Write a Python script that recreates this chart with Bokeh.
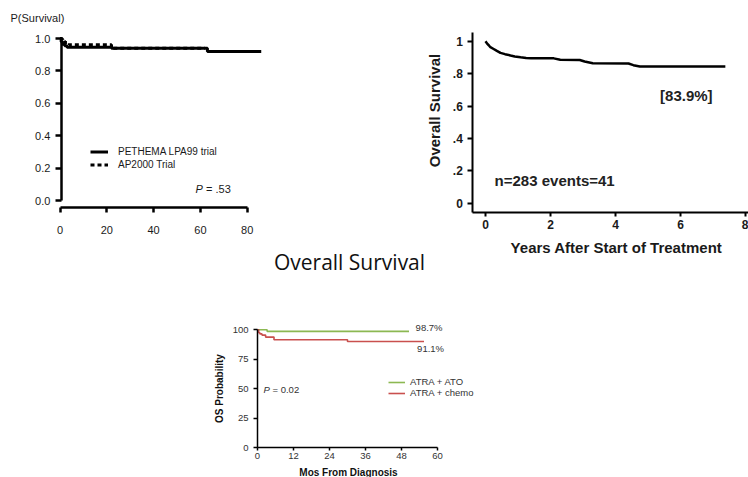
from bokeh.plotting import figure
from bokeh.models import (Range1d, FixedTicker, Label, Legend, LegendItem,
                          NumeralTickFormatter, LinearAxis)
from bokeh.embed import file_html
from bokeh.resources import INLINE

ARIAL = "Liberation Sans"
W, H = 748, 477

# ---------------- Panel B (top left): P(Survival) by trial ----------------
lpa99_months = [0, 0.5, 1, 2, 3, 22, 63, 86]
lpa99_surv = [1.0, 0.98, 0.965, 0.955, 0.946, 0.94, 0.92, 0.92]
ap2000_months = [0, 1, 2, 4, 22, 62]
ap2000_surv = [1.0, 0.985, 0.975, 0.962, 0.94, 0.94]
b_xticks = [0, 20, 40, 60, 80]
b_yticks = [0.0, 0.2, 0.4, 0.6, 0.8, 1.0]
b_labels = ["PETHEMA LPA99 trial", "AP2000 Trial"]

# ---------------- Top right: overall survival, years ----------------
os_years = [0, 0.05, 0.1, 0.15, 0.25, 0.35, 0.46, 0.6, 0.77, 0.9, 1.08, 1.25, 1.4,
            2.1, 2.3, 2.9, 3.05, 3.3, 4.4, 4.55, 4.75, 7.38]
os_surv = [1.0, 0.985, 0.975, 0.963, 0.952, 0.94, 0.928, 0.92, 0.912, 0.906, 0.901, 0.897, 0.895,
           0.894, 0.886, 0.884, 0.875, 0.864, 0.862, 0.852, 0.844, 0.844]
os_xticks = [0, 2, 4, 6, 8]
os_yticks = [0, 0.2, 0.4, 0.6, 0.8, 1.0]
os_ytick_text = ["0", ".2", ".4", ".6", ".8", "1"]

# ---------------- Bottom: OS probability by arm ----------------
ato_months = [0, 3.2, 50.5]
ato_os = [100, 98.7, 98.7]
chemo_months = [0, 0.4, 0.8, 1.5, 2.7, 5.5, 30, 55.5]
chemo_os = [100, 97.5, 96.5, 95.5, 93.8, 91.5, 90.0, 90.0]
c_xticks = [0, 12, 24, 36, 48, 60]
c_yticks = [0, 25, 50, 75, 100]
c_labels = ["ATRA + ATO", "ATRA + chemo"]
GREEN = "#8cb852"
RED = "#c9504e"


def xr(px0, scale):
    """x range so that value 0 sits at pixel px0 with `scale` px per unit."""
    return Range1d(-px0 / scale, (W - px0) / scale)


def yr(py0, scale):
    """y range so that value 0 sits at pixel py0 (from top) with `scale` px per unit."""
    return Range1d(-(H - py0) / scale, py0 / scale)


p = figure(width=W, height=H, x_range=xr(257, 3.0), y_range=yr(447, 1.177),
           x_axis_type=None, y_axis_type=None, output_backend="svg",
           toolbar_location=None, min_border=0)
p.extra_x_ranges = {"b_x": xr(59.5, 2.34), "os_x": xr(485, 32.5)}
p.extra_y_ranges = {"b_y": yr(200, 162), "os_y": yr(202.7, 162)}
p.outline_line_color = None
p.background_fill_color = "white"
p.border_fill_color = "white"


def style_axis(ax, lw, tick_out, standoff, size, color, bold=False):
    ax.axis_line_width = lw
    ax.major_tick_line_width = lw
    ax.major_tick_in = 0
    ax.major_tick_out = tick_out
    ax.minor_tick_line_color = None
    ax.major_label_standoff = standoff
    ax.major_label_text_font = ARIAL
    ax.major_label_text_font_size = size
    ax.major_label_text_color = color
    if bold:
        ax.major_label_text_font_style = "bold"


def text(x, y, s, rx=None, ry=None, size="11px", color="#1a1a1a", style="normal",
         align="left", baseline="middle", angle=0, font=ARIAL, x_offset=0):
    kw = {}
    if rx:
        kw["x_range_name"] = rx
    if ry:
        kw["y_range_name"] = ry
    p.add_layout(Label(x=x, y=y, text=s, text_font=font, text_font_size=size,
                       text_color=color, text_font_style=style, text_align=align,
                       text_baseline=baseline, angle=angle, angle_units="deg",
                       x_offset=x_offset, **kw))


# ===== Panel B (top left) =====
s1 = p.step(lpa99_months, lpa99_surv, mode="after", line_width=3, line_color="black",
            x_range_name="b_x", y_range_name="b_y")
s2 = p.step(ap2000_months, ap2000_surv, mode="after", line_width=3, line_color="black",
            line_dash="4 3", x_range_name="b_x", y_range_name="b_y")
b_yax = LinearAxis(x_range_name="b_x", y_range_name="b_y", fixed_location=0.6, bounds=(0, 1),
                   ticker=FixedTicker(ticks=b_yticks), formatter=NumeralTickFormatter(format="0.0"))
b_xax = LinearAxis(x_range_name="b_x", y_range_name="b_y", fixed_location=-0.0432,
                   bounds=(0, 80), ticker=FixedTicker(ticks=b_xticks))
style_axis(b_yax, 2.5, 6, 5, "11px", "#1a1a1a")
style_axis(b_xax, 2.5, 5, 14, "11px", "#1a1a1a")
p.add_layout(b_yax, "left")
p.add_layout(b_xax, "below")
leg1 = Legend(items=[LegendItem(label=b_labels[0], renderers=[s1]),
                     LegendItem(label=b_labels[1], renderers=[s2])],
              location=(90, 306), glyph_width=18, glyph_height=13, label_height=13,
              label_standoff=10, spacing=0, padding=0, margin=0,
              border_line_alpha=0, background_fill_alpha=0,
              label_text_font=ARIAL, label_text_font_size="10px", label_text_color="#1a1a1a")
p.add_layout(leg1)
text(-21.15, 1.1235, "P(Survival)", "b_x", "b_y")
text(57.9, 0.072, "P", "b_x", "b_y", style="italic")
text(57.9, 0.072, "= .53", "b_x", "b_y", x_offset=10.5)

# ===== Top right =====
p.line(os_years, os_surv, line_width=2.5, line_color="black",
       x_range_name="os_x", y_range_name="os_y")
os_yax = LinearAxis(x_range_name="os_x", y_range_name="os_y", fixed_location=-0.39,
                    bounds=(-0.0555, 1.054), ticker=FixedTicker(ticks=os_yticks))
os_yax.major_label_overrides = {t: s for t, s in zip(os_yticks, os_ytick_text)}
os_xax = LinearAxis(x_range_name="os_x", y_range_name="os_y", fixed_location=-0.0555,
                    bounds=(-0.39, 8.3), ticker=FixedTicker(ticks=os_xticks))
style_axis(os_yax, 2, 5, 5, "12px", "#1a1a1a", bold=True)
style_axis(os_xax, 2, 4, 4, "12px", "#1a1a1a", bold=True)
p.add_layout(os_yax, "left")
p.add_layout(os_xax, "below")
text(-1.554, 0.572, "Overall Survival", "os_x", "os_y", size="15px", style="bold",
     align="center", angle=90)
text(4.03, -0.275, "Years After Start of Treatment", "os_x", "os_y", size="15px",
     style="bold", align="center")
text(6.18, 0.665, "[83.9%]", "os_x", "os_y", size="15px", style="bold", align="center",
     color="#222222")
text(0.28, 0.14, "n=283  events=41", "os_x", "os_y", size="15px", style="bold",
     color="#222222")

# ===== Bottom =====
g = p.step(ato_months, ato_os, mode="after", line_width=1.6, line_color=GREEN)
r = p.step(chemo_months, chemo_os, mode="after", line_width=1.6, line_color=RED)
c_yax = LinearAxis(fixed_location=0, bounds=(0, 100), ticker=FixedTicker(ticks=c_yticks))
c_xax = LinearAxis(fixed_location=0, bounds=(0, 60), ticker=FixedTicker(ticks=c_xticks))
style_axis(c_yax, 1.5, 4, 5, "9.5px", "#333333")
style_axis(c_xax, 1.5, 3, 2, "9.5px", "#333333")
p.add_layout(c_yax, "left")
p.add_layout(c_xax, "below")
leg3 = Legend(items=[LegendItem(label=c_labels[0], renderers=[g]),
                     LegendItem(label=c_labels[1], renderers=[r])],
              location=(388, 79), glyph_width=17, glyph_height=10, label_height=10,
              label_standoff=5, spacing=0, padding=0, margin=0,
              border_line_alpha=0, background_fill_alpha=0,
              label_text_font=ARIAL, label_text_font_size="9.5px", label_text_color="#333333")
p.add_layout(leg3)
text(-12.67, 50.1, "OS Probability", size="10px", style="bold", align="center", angle=90,
     color="#111111")
text(30.33, -21.0, "Mos From Diagnosis", size="10px", style="bold", align="center",
     color="#111111")
text(52.7, 102.2, "98.7%", size="9.5px", color="#333333")
text(53.2, 83.9, "91.1%", size="9.5px", color="#333333")
text(2.0, 49.0, "P", size="9.5px", style="italic", color="#333333")
text(2.0, 49.0, "= 0.02", size="9.5px", color="#333333", x_offset=9)
text(30.67, 157.2, "Overall Survival", size="21px", color="#111111", align="center",
     baseline="middle", font="Open Sans")

open("out.html", "w").write(file_html(p, INLINE))
